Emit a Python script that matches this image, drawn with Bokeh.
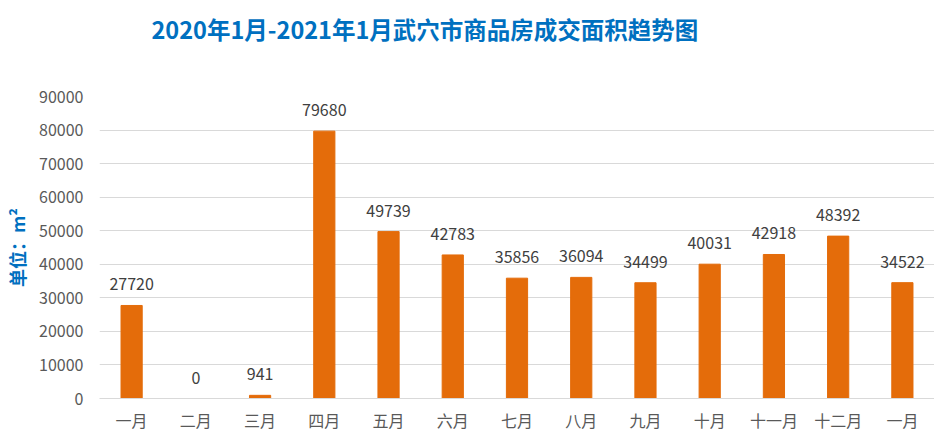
from bokeh.plotting import figure
from bokeh.models import ColumnDataSource, Range1d, Title
from bokeh.core.properties import value
from bokeh.embed import file_html
from bokeh.resources import INLINE

title_text = "2020年1月-2021年1月武穴市商品房成交面积趋势图"
tick_labels = ["一月", "二月", "三月", "四月", "五月", "六月", "七月",
               "八月", "九月", "十月", "十一月", "十二月", "一月"]
areas = [27720, 0, 941, 79680, 49739, 42783, 35856, 36094, 34499, 40031, 42918, 48392, 34522]

FONT = "Noto Sans CJK SC"
idx = list(range(len(areas)))

src = ColumnDataSource(dict(x=idx, y=areas, lbl=[str(v) for v in areas]))

p = figure(width=934, height=445, x_range=Range1d(-0.5, len(areas) - 0.5),
           y_range=Range1d(0, 90000), output_backend="svg", toolbar_location=None,
           title=None,
           min_border_left=99, min_border_right=0, min_border_top=96, min_border_bottom=47)
p.outline_line_color = None

spacer = Title(text=" ", text_font_size="1px", standoff=39)
p.add_layout(spacer, "above")
main_title = Title(text=title_text, text_font=FONT, text_font_size="23.5px",
                   text_font_style="bold", text_color="#0070C0", align="left",
                   offset=52, standoff=18)
p.add_layout(main_title, "above")

p.vbar(x="x", top="y", width=0.33, source=src, color="#E46C0A")
p.text(x="x", y="y", text="lbl", source=src, text_align="center", text_baseline="middle",
       y_offset=-21, text_font=value(FONT), text_font_size="16px", text_color="#404040")

p.xgrid.grid_line_color = None
p.ygrid.grid_line_color = "#D9D9D9"
p.ygrid.grid_line_width = 1

p.yaxis.ticker = list(range(0, 90001, 10000))
p.yaxis.axis_line_color = None
p.yaxis.major_tick_line_color = None
p.yaxis.minor_tick_line_color = None
p.yaxis.major_label_text_font = FONT
p.yaxis.major_label_text_font_size = "16px"
p.yaxis.major_label_text_color = "#595959"
p.yaxis.major_label_standoff = 10
p.yaxis.axis_label = "单位：m²"
p.yaxis.axis_label_text_font = FONT
p.yaxis.axis_label_text_font_size = "18px"
p.yaxis.axis_label_text_font_style = "bold"
p.yaxis.axis_label_text_color = "#0070C0"
p.yaxis.axis_label_standoff = 6

p.xaxis.ticker = idx
p.xaxis.axis_line_color = "#D9D9D9"
p.xaxis.major_tick_line_color = None
p.xaxis.minor_tick_line_color = None
p.xaxis.major_label_text_font = FONT
p.xaxis.major_label_text_font_size = "16px"
p.xaxis.major_label_text_color = "#595959"
p.xaxis.major_label_standoff = 3
p.xaxis.major_label_overrides = {i: t for i, t in zip(idx, tick_labels)}

open("out.html", "w").write(file_html(p, INLINE))
